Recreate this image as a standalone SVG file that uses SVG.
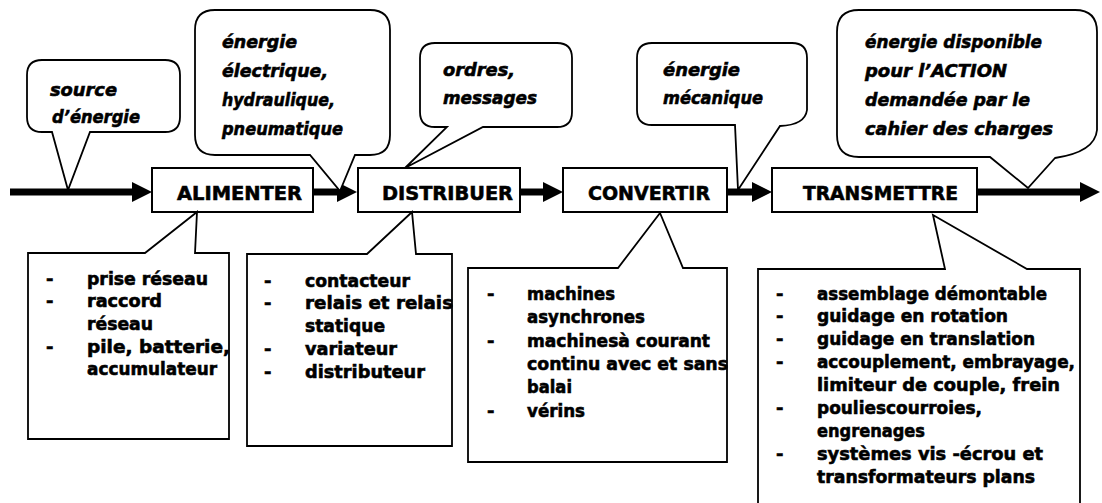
<svg xmlns="http://www.w3.org/2000/svg" width="1102" height="503" viewBox="0 0 1102 503">
<defs>
<style>
.bg{fill:#fff}
.box{fill:#fff;stroke:#000;stroke-width:2}
.call{fill:#fff;stroke:#000;stroke-width:1.8;stroke-linejoin:miter}
.flow{fill:none;stroke:#000;stroke-width:7}
.lbl{font-family:"DejaVu Sans","Liberation Sans",sans-serif;font-weight:bold;font-size:20px;fill:#000;stroke:#000;stroke-width:0.6}
.it{font-family:"DejaVu Sans","Liberation Sans",sans-serif;font-weight:bold;font-style:italic;font-size:18px;fill:#000;stroke:#000;stroke-width:0.6}
.li{font-family:"DejaVu Sans","Liberation Sans",sans-serif;font-weight:bold;font-size:18px;fill:#000;stroke:#000;stroke-width:0.6}
</style>
<marker id="ah" viewBox="0 0 20 20" refX="2" refY="10" markerWidth="20" markerHeight="20" markerUnits="userSpaceOnUse" orient="auto">
<path d="M0,0 L20,10 L0,20 Z" fill="#000"/>
</marker>
</defs>
<rect class="bg" x="0" y="0" width="1102" height="503"/>

<g id="connectors">
<path class="flow" d="M10,192 H134" marker-end="url(#ah)"/>
<path class="flow" d="M313,192 H339" marker-end="url(#ah)"/>
<path class="flow" d="M520,192 H545" marker-end="url(#ah)"/>
<path class="flow" d="M727,192 H754" marker-end="url(#ah)"/>
<path class="flow" d="M977,192 H1082" marker-end="url(#ah)"/>
</g>

<g id="node-alimenter">
<rect class="box" x="152" y="168" width="161" height="44"/>
<text class="lbl" x="177" y="200" textLength="125" lengthAdjust="spacingAndGlyphs">ALIMENTER</text>
</g>
<g id="node-distribuer">
<rect class="box" x="358" y="168" width="162" height="44"/>
<text class="lbl" x="382" y="200" textLength="131" lengthAdjust="spacingAndGlyphs">DISTRIBUER</text>
</g>
<g id="node-convertir">
<rect class="box" x="563" y="168" width="164" height="44"/>
<text class="lbl" x="588" y="200" textLength="122" lengthAdjust="spacingAndGlyphs">CONVERTIR</text>
</g>
<g id="node-transmettre">
<rect class="box" x="772" y="168" width="205" height="44"/>
<text class="lbl" x="803" y="200" textLength="155" lengthAdjust="spacingAndGlyphs">TRANSMETTRE</text>
</g>

<g id="callout-source">
<path class="call" d="M42,60 H165 Q180,60 180,75 V117 Q180,132 165,132 H90 L68,190 L52,132 H42 Q27,132 27,117 V75 Q27,60 42,60 Z"/>
<text class="it" x="50" y="96" textLength="67" lengthAdjust="spacingAndGlyphs">source</text>
<text class="it" x="52" y="123" textLength="88" lengthAdjust="spacingAndGlyphs">d’énergie</text>
</g>

<g id="callout-energie-electrique">
<path class="call" d="M215,10 H370 Q390,10 390,30 V135 Q390,155 370,155 H355 L340,191 L310,155 H215 Q195,155 195,135 V30 Q195,10 215,10 Z"/>
<text class="it" x="222" y="48" textLength="75" lengthAdjust="spacingAndGlyphs">énergie</text>
<text class="it" x="222" y="77" textLength="106" lengthAdjust="spacingAndGlyphs">électrique,</text>
<text class="it" x="222" y="106" textLength="113" lengthAdjust="spacingAndGlyphs">hydraulique,</text>
<text class="it" x="222" y="135" textLength="121" lengthAdjust="spacingAndGlyphs">pneumatique</text>
</g>

<g id="callout-ordres">
<path class="call" d="M435,43 H557 Q572,43 572,58 V112 Q572,127 557,127 H483 L405,168 L447,127 H435 Q420,127 420,112 V58 Q420,43 435,43 Z"/>
<text class="it" x="443" y="76" textLength="72" lengthAdjust="spacingAndGlyphs">ordres,</text>
<text class="it" x="443" y="104" textLength="94" lengthAdjust="spacingAndGlyphs">messages</text>
</g>

<g id="callout-energie-mecanique">
<path class="call" d="M652,43 H792 Q807,43 807,58 V110 Q805,125 780,126 L738,190 L735,125 H652 Q637,125 637,110 V58 Q637,43 652,43 Z"/>
<text class="it" x="663" y="76" textLength="77" lengthAdjust="spacingAndGlyphs">énergie</text>
<text class="it" x="663" y="104" textLength="100" lengthAdjust="spacingAndGlyphs">mécanique</text>
</g>

<g id="callout-action">
<path class="call" d="M859,10 H1075 Q1097,10 1097,32 V130 Q1095,152 1055,158 L1028,188 L990,157 H859 Q837,157 837,135 V32 Q837,10 859,10 Z"/>
<text class="it" x="865" y="48" textLength="177" lengthAdjust="spacingAndGlyphs">énergie disponible</text>
<text class="it" x="865" y="77" textLength="142" lengthAdjust="spacingAndGlyphs">pour l’ACTION</text>
<text class="it" x="865" y="106" textLength="165" lengthAdjust="spacingAndGlyphs">demandée par le</text>
<text class="it" x="865" y="135" textLength="188" lengthAdjust="spacingAndGlyphs">cahier des charges</text>
</g>

<g id="list-alimenter">
<path class="call" d="M28,253 H145 L197,212 L195,253 H229 V439 H28 Z"/>
<text class="li" x="46" y="285">-</text>
<text class="li" x="87" y="285" textLength="121" lengthAdjust="spacingAndGlyphs">prise réseau</text>
<text class="li" x="46" y="307">-</text>
<text class="li" x="87" y="307" textLength="75" lengthAdjust="spacingAndGlyphs">raccord</text>
<text class="li" x="87" y="330" textLength="66" lengthAdjust="spacingAndGlyphs">réseau</text>
<text class="li" x="46" y="353">-</text>
<text class="li" x="87" y="353" textLength="143" lengthAdjust="spacingAndGlyphs">pile, batterie,</text>
<text class="li" x="87" y="375" textLength="130" lengthAdjust="spacingAndGlyphs">accumulateur</text>
</g>

<g id="list-distribuer">
<path class="call" d="M247,254 H367 L412,212 L416,254 H452 V446 H247 Z"/>
<text class="li" x="264" y="287">-</text>
<text class="li" x="305" y="287" textLength="105" lengthAdjust="spacingAndGlyphs">contacteur</text>
<text class="li" x="264" y="309">-</text>
<text class="li" x="305" y="309" textLength="148" lengthAdjust="spacingAndGlyphs">relais et relais</text>
<text class="li" x="305" y="332" textLength="80" lengthAdjust="spacingAndGlyphs">statique</text>
<text class="li" x="264" y="355">-</text>
<text class="li" x="305" y="355" textLength="92" lengthAdjust="spacingAndGlyphs">variateur</text>
<text class="li" x="264" y="378">-</text>
<text class="li" x="305" y="378" textLength="120" lengthAdjust="spacingAndGlyphs">distributeur</text>
</g>

<g id="list-convertir">
<path class="call" d="M468,268 H618 L660,213 L683,268 H727 V462 H468 Z"/>
<text class="li" x="487" y="300">-</text>
<text class="li" x="527" y="300" textLength="88" lengthAdjust="spacingAndGlyphs">machines</text>
<text class="li" x="527" y="323" textLength="118" lengthAdjust="spacingAndGlyphs">asynchrones</text>
<text class="li" x="487" y="347">-</text>
<text class="li" x="527" y="347" textLength="183" lengthAdjust="spacingAndGlyphs">machinesà courant</text>
<text class="li" x="527" y="370" textLength="201" lengthAdjust="spacingAndGlyphs">continu avec et sans</text>
<text class="li" x="527" y="393" textLength="45" lengthAdjust="spacingAndGlyphs">balai</text>
<text class="li" x="487" y="417">-</text>
<text class="li" x="527" y="417" textLength="58" lengthAdjust="spacingAndGlyphs">vérins</text>
</g>

<g id="list-transmettre">
<path class="call" d="M758,520 V269 H945 L933,215 L1027,269 H1080 V520"/>
<text class="li" x="776" y="300">-</text>
<text class="li" x="817" y="300" textLength="230" lengthAdjust="spacingAndGlyphs">assemblage démontable</text>
<text class="li" x="776" y="322">-</text>
<text class="li" x="817" y="322" textLength="191" lengthAdjust="spacingAndGlyphs">guidage en rotation</text>
<text class="li" x="776" y="345">-</text>
<text class="li" x="817" y="345" textLength="218" lengthAdjust="spacingAndGlyphs">guidage en translation</text>
<text class="li" x="776" y="368">-</text>
<text class="li" x="817" y="368" textLength="258" lengthAdjust="spacingAndGlyphs">accouplement, embrayage,</text>
<text class="li" x="817" y="391" textLength="243" lengthAdjust="spacingAndGlyphs">limiteur de couple, frein</text>
<text class="li" x="776" y="414">-</text>
<text class="li" x="817" y="414" textLength="165" lengthAdjust="spacingAndGlyphs">pouliescourroies,</text>
<text class="li" x="817" y="437" textLength="108" lengthAdjust="spacingAndGlyphs">engrenages</text>
<text class="li" x="776" y="460">-</text>
<text class="li" x="817" y="460" textLength="226" lengthAdjust="spacingAndGlyphs">systèmes vis -écrou et</text>
<text class="li" x="817" y="483" textLength="218" lengthAdjust="spacingAndGlyphs">transformateurs plans</text>
</g>
</svg>
